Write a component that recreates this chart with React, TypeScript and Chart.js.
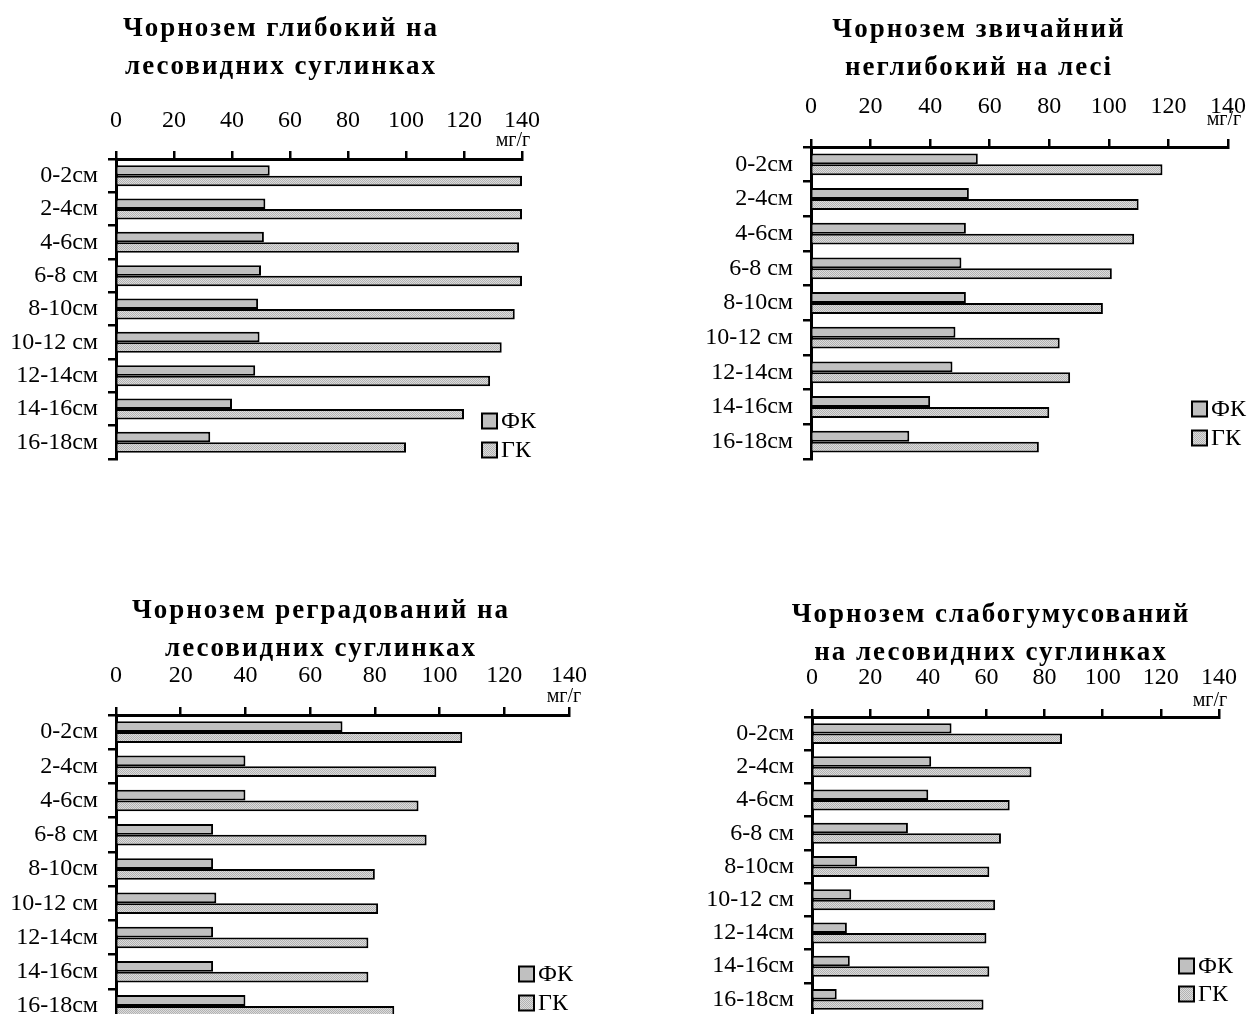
import React, { useEffect, useRef } from 'react';
import { Chart, registerables } from 'chart.js';

Chart.register(...registerables);

// Depth layers (shared by all four soil profiles)
const depthLabels = ['0-2см', '2-4см', '4-6см', '6-8 см', '8-10см', '10-12 см', '12-14см', '14-16см', '16-18см'];
const seriesNames = ['ФК', 'ГК'];
const xTickValues = [0, 20, 40, 60, 80, 100, 120, 140];
const unitLabel = 'мг/г';

// Чорнозем глибокий на лесовидних суглинках
const titleDeep = ['Чорнозем глибокий на', 'лесовидних суглинках'];
const fkDeep = [53, 51.5, 51, 50, 49, 49.5, 48, 40, 32.5];
const gkDeep = [140, 140, 139, 140, 137.5, 133, 129, 120, 100];

// Чорнозем звичайний неглибокий на лесі
const titleOrdinary = ['Чорнозем звичайний', 'неглибокий на лесі'];
const fkOrdinary = [56, 53, 52, 50.5, 52, 48.5, 47.5, 40, 33];
const gkOrdinary = [118, 110, 108.5, 101, 98, 83.5, 87, 80, 76.5];

// Чорнозем реградований на лесовидних суглинках
const titleRegraded = ['Чорнозем реградований на', 'лесовидних суглинках'];
const fkRegraded = [70, 40, 40, 30, 30, 31, 30, 30, 40];
const gkRegraded = [107, 99, 93.5, 96, 80, 81, 78, 78, 86];

// Чорнозем слабогумусований на лесовидних суглинках
const titleWeak = ['Чорнозем слабогумусований', 'на лесовидних суглинках'];
const fkWeak = [48, 41, 40, 33, 15.5, 13.5, 12, 13, 8.5];
const gkWeak = [86, 75.5, 68, 65, 61, 63, 60, 61, 59];

const SERIF = '"Liberation Serif", "Times New Roman", serif';

type PanelSpec = {
  title: string[];
  fk: number[];
  gk: number[];
  box: { left: number; top: number; width: number; height: number };
  area: { left: number; top: number; right: number; bottom: number };
  tickPad: number;
  titleX: number;
  titleY: number[];
  unitAt: [number, number];
  legendX: number;
  legendY: number[];
};

const panels: PanelSpec[] = [
  {
    title: titleDeep, fk: fkDeep, gk: gkDeep,
    box: { left: 0, top: 0, width: 600, height: 500 },
    area: { left: 116, top: 159, right: 522, bottom: 459 },
    tickPad: 16, titleX: 281, titleY: [36, 74], unitAt: [513, 141],
    legendX: 482, legendY: [421, 450],
  },
  {
    title: titleOrdinary, fk: fkOrdinary, gk: gkOrdinary,
    box: { left: 620, top: 0, width: 627, height: 500 },
    area: { left: 191, top: 147, right: 608, bottom: 459 },
    tickPad: 18, titleX: 359, titleY: [37, 75], unitAt: [604, 120],
    legendX: 572, legendY: [409, 438],
  },
  {
    title: titleRegraded, fk: fkRegraded, gk: gkRegraded,
    box: { left: 0, top: 540, width: 600, height: 500 },
    area: { left: 116, top: 175, right: 569, bottom: 483 },
    tickPad: 17, titleX: 321, titleY: [78, 116], unitAt: [564, 157],
    legendX: 519, legendY: [434, 463],
  },
  {
    title: titleWeak, fk: fkWeak, gk: gkWeak,
    box: { left: 620, top: 540, width: 627, height: 500 },
    area: { left: 192, top: 177, right: 599, bottom: 476 },
    tickPad: 17, titleX: 371, titleY: [82, 120], unitAt: [590, 161],
    legendX: 559, legendY: [426, 454],
  },
];

// Fine dotted fill used for the ГК bars
function makeDottedFill(): CanvasPattern | string {
  const c = document.createElement('canvas');
  c.width = 2;
  c.height = 2;
  const g = c.getContext('2d');
  if (!g) return '#c8c8c8';
  g.fillStyle = '#dcdcdc';
  g.fillRect(0, 0, 2, 2);
  g.fillStyle = '#b2b2b2';
  g.fillRect(0, 0, 1, 1);
  g.fillRect(1, 1, 1, 1);
  return g.createPattern(c, 'repeat') || '#c8c8c8';
}

function Panel({ spec }: { spec: PanelSpec }) {
  const ref = useRef<HTMLCanvasElement | null>(null);

  useEffect(() => {
    const canvas = ref.current;
    if (!canvas) return;
    const dotted = makeDottedFill();
    const { box, area } = spec;

    // Title, unit caption and legend drawn on top of the chart
    const decor = {
      id: 'panelDecor',
      afterDraw(chart: any) {
        const ctx = chart.ctx as CanvasRenderingContext2D;
        ctx.save();
        ctx.fillStyle = '#000';
        ctx.font = `bold 27px ${SERIF}`;
        (ctx as any).letterSpacing = '2px';
        ctx.textAlign = 'center';
        ctx.textBaseline = 'alphabetic';
        spec.title.forEach((line, i) => ctx.fillText(line, spec.titleX, spec.titleY[i]));
        (ctx as any).letterSpacing = '0px';

        ctx.font = `20px ${SERIF}`;
        ctx.textBaseline = 'middle';
        ctx.fillText(unitLabel, spec.unitAt[0], spec.unitAt[1]);

        ctx.textAlign = 'left';
        ctx.font = `24px ${SERIF}`;
        chart.data.datasets.forEach((ds: any, i: number) => {
          const cy = spec.legendY[i];
          const s = 15;
          ctx.fillStyle = ds.backgroundColor;
          ctx.fillRect(spec.legendX, cy - s / 2, s, s);
          ctx.lineWidth = 2;
          ctx.strokeStyle = '#000';
          ctx.strokeRect(spec.legendX, cy - s / 2, s, s);
          ctx.fillStyle = '#000';
          ctx.fillText(ds.label, spec.legendX + s + 4, cy + 1);
        });
        ctx.restore();
      },
    };

    const chart = new Chart(canvas, {
      type: 'bar',
      data: {
        labels: depthLabels,
        datasets: [
          {
            label: seriesNames[0],
            data: spec.fk,
            backgroundColor: '#c0c0c0',
            borderColor: '#000',
            borderWidth: 2,
            categoryPercentage: 0.63,
            barPercentage: 1,
          },
          {
            label: seriesNames[1],
            data: spec.gk,
            backgroundColor: dotted as any,
            borderColor: '#000',
            borderWidth: 2,
            categoryPercentage: 0.63,
            barPercentage: 1,
          },
        ],
      },
      options: {
        indexAxis: 'y',
        responsive: false,
        maintainAspectRatio: false,
        animation: false,
        devicePixelRatio: 1,
        layout: {
          padding: {
            top: 0,
            left: 0,
            right: box.width - area.right,
            bottom: box.height - area.bottom,
          },
        },
        plugins: {
          legend: { display: false },
          title: { display: false },
          tooltip: { enabled: false },
        },
        scales: {
          x: {
            type: 'linear',
            position: 'top',
            min: 0,
            max: 140,
            afterBuildTicks: (scale: any) => {
              scale.ticks = xTickValues.map((v) => ({ value: v }));
            },
            afterFit: (scale: any) => {
              scale.height = area.top;
              scale.paddingLeft = 0;
              scale.paddingRight = 0;
            },
            ticks: {
              padding: spec.tickPad,
              color: '#000',
              font: { family: SERIF, size: 24 },
              maxRotation: 0,
              autoSkip: false,
            },
            grid: {
              drawOnChartArea: false,
              drawTicks: true,
              tickLength: 8,
              lineWidth: 2.5,
              color: '#000',
            },
            border: { display: true, width: 3, color: '#000' },
          },
          y: {
            type: 'category',
            afterFit: (scale: any) => {
              scale.width = area.left;
              scale.paddingTop = 0;
              scale.paddingBottom = 0;
            },
            ticks: {
              padding: 10,
              color: '#000',
              font: { family: SERIF, size: 24 },
              autoSkip: false,
            },
            grid: {
              drawOnChartArea: false,
              drawTicks: true,
              tickLength: 8,
              lineWidth: 2.5,
              color: '#000',
              offset: true,
            },
            border: { display: true, width: 3, color: '#000' },
          },
        },
      },
      plugins: [decor],
    } as any);

    return () => chart.destroy();
  }, [spec]);

  return (
    <canvas
      ref={ref}
      width={spec.box.width}
      height={spec.box.height}
      style={{
        position: 'absolute',
        left: spec.box.left,
        top: spec.box.top,
        width: spec.box.width,
        height: spec.box.height,
        display: 'block',
      }}
    />
  );
}

export default function App() {
  return (
    <div
      style={{
        position: 'absolute',
        left: 0,
        top: 0,
        width: 1247,
        height: 1014,
        overflow: 'hidden',
        background: '#fff',
      }}
    >
      {panels.map((p, i) => (
        <Panel key={i} spec={p} />
      ))}
    </div>
  );
}
